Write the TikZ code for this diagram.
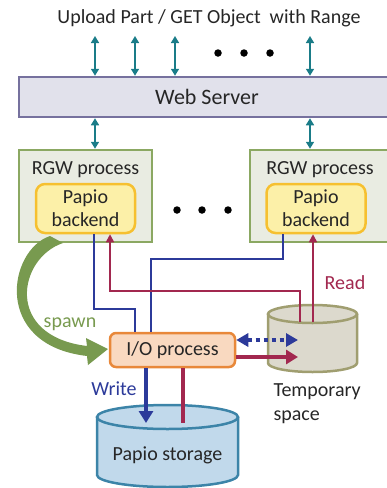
\documentclass[tikz,border=0pt]{standalone}
\usepackage{fontspec}
\setmainfont{Carlito}
\usetikzlibrary{arrows.meta,calc}
\definecolor{tealc}{HTML}{1A7C88}
\definecolor{txtc}{HTML}{262626}
\definecolor{wsf}{HTML}{E1E1EB}
\definecolor{wsb}{HTML}{76719E}
\definecolor{rgwf}{HTML}{E9ECE2}
\definecolor{rgwb}{HTML}{8BA862}
\definecolor{pbf}{HTML}{FCF0A8}
\definecolor{pbb}{HTML}{F6C030}
\definecolor{bluec}{HTML}{2C3A9A}
\definecolor{redc}{HTML}{A2284F}
\definecolor{iof}{HTML}{F9D9C0}
\definecolor{iob}{HTML}{E8883A}
\definecolor{tmpf}{HTML}{DCD9CD}
\definecolor{tmpb}{HTML}{A09E70}
\definecolor{stf}{HTML}{C1D9EB}
\definecolor{stb}{HTML}{3C84A8}
\definecolor{spawnc}{HTML}{789A4F}
\begin{document}
\begin{tikzpicture}[x=1pt,y=1pt,
  txt/.style={text=txtc, font=\fontsize{20}{24}\selectfont},
  tealarrow/.style={draw=tealc, line width=1.6pt, {Triangle[length=7pt,width=8pt]}-{Triangle[length=7pt,width=8pt]}},
  wsbox/.style={draw=wsb, fill=wsf, line width=2.5pt, minimum width=376pt, minimum height=40pt, inner sep=0pt, text=txtc, font=\fontsize{22}{26}\selectfont},
  rgwbox/.style={draw=rgwb, fill=rgwf, line width=2.5pt, inner sep=0pt},
  pbox/.style={draw=pbb, fill=pbf, line width=2.5pt, rounded corners=9pt, minimum width=99pt, minimum height=49pt, inner sep=0pt, align=center, txt},
  iobox/.style={draw=iob, fill=iof, line width=2.5pt, rounded corners=6pt, minimum width=125pt, minimum height=34pt, inner sep=0pt, txt},
  thinblue/.style={draw=bluec, line width=1.6pt},
  thinred/.style={draw=redc, line width=1.6pt},
  thickblue/.style={draw=bluec, line width=4pt},
  thickred/.style={draw=redc, line width=4pt},
  bigtip/.style={-{Triangle[length=12pt,width=14pt]}},
  dotc/.style={fill=black, circle, inner sep=0pt, minimum size=7.5pt}
]
\useasboundingbox (0,0) rectangle (387,-488);
\clip (0,0) rectangle (387,-488);

% top text
\node[txt] (title) at (209,-18) {Upload Part / GET Object \ with Range};

% web server
\node[wsbox] (ws) at (207,-97) {Web Server};

% top arrows
\coordinate (u1) at (95,-36);
\coordinate (u2) at (135,-36);
\coordinate (u3) at (175,-36);
\coordinate (u4) at (310,-36);
\draw[tealarrow] (u1) -- (u1 |- ws.north);
\draw[tealarrow] (u2) -- (u2 |- ws.north);
\draw[tealarrow] (u3) -- (u3 |- ws.north);
\draw[tealarrow] (u4) -- (u4 |- ws.north);
\node[dotc] (d1) at (218,-53) {};
\node[dotc] (d2) at (244,-53) {};
\node[dotc] (d3) at (270,-53) {};

% RGW boxes
\node[rgwbox, minimum width=133pt, minimum height=92pt] (rgw1) at (85.5,-196) {};
\node[rgwbox, minimum width=150pt, minimum height=92pt] (rgw2) at (325,-196) {};
\node[txt] (rgw1t) at (85.5,-170) {RGW process};
\node[txt] (rgw2t) at (320,-170) {RGW process};
\node[pbox] (pb1) at (85.5,-208.5) {Papio\\[-1pt]backend};
\node[pbox] (pb2) at (316,-208.5) {Papio\\[-1pt]backend};
\node[dotc] (m1) at (177,-210) {};
\node[dotc] (m2) at (202,-210) {};
\node[dotc] (m3) at (228,-210) {};

\draw[tealarrow] (ws.south -| u1) -- (rgw1.north -| u1);
\draw[tealarrow] (ws.south -| u4) -- (rgw2.north -| u4);

% I/O process
\node[iobox] (io) at (172.5,-350) {I/O process};

% Temporary space cylinder
\fill[tmpf] (268,-314) -- (268,-363) arc[start angle=180,end angle=360,x radius=44.5pt,y radius=9pt] -- (357,-314) arc[start angle=0,end angle=180,x radius=44.5pt,y radius=9pt] -- cycle;
\draw[tmpb, line width=2.5pt] (268,-314) -- (268,-363) arc[start angle=180,end angle=360,x radius=44.5pt,y radius=9pt] -- (357,-314);
\draw[tmpb, line width=2.5pt] (312.5,-314) ellipse[x radius=44.5pt,y radius=9pt];
\node[txt, align=left, anchor=north west] (tmpt) at (270,-380) {Temporary\\space};
\coordinate (tA) at (300,-322);
\coordinate (tB) at (313,-322);
\coordinate (tD) at (298,-340);
\coordinate (tR) at (298,-357);

% Papio storage cylinder
\fill[stf] (97,-417) -- (97,-475) arc[start angle=180,end angle=360,x radius=70.5pt,y radius=12pt] -- (238,-417) arc[start angle=0,end angle=180,x radius=70.5pt,y radius=12pt] -- cycle;
\draw[stb, line width=2.5pt] (97,-417) -- (97,-475) arc[start angle=180,end angle=360,x radius=70.5pt,y radius=12pt] -- (238,-417);
\draw[stb, line width=2.5pt] (167.5,-417) ellipse[x radius=70.5pt,y radius=12pt];
\node[txt] (stt) at (167.5,-455) {Papio storage};
\coordinate (sW) at (146,-423);
\coordinate (sR) at (183,-423);

% thin connectors
\draw[thinblue] ([xshift=8.5pt]pb1.south) -- ++(0,-75) -| ([xshift=-37.5pt]io.north);
\draw[thinblue] ([xshift=-33pt]pb2.south) -- ++(0,-25) -| ([xshift=-21.5pt]io.north);
\draw[thinred, -{Triangle[length=8pt,width=8pt]}] (tA) -- (300,-291) -| ([xshift=24.5pt]pb1.south);
\draw[thinred, -{Triangle[length=8pt,width=8pt]}] (tB) -- (tB |- pb2.south);
\node[txt, text=redc] (read) at (345,-283) {Read};

% thick connectors
\draw[thickblue, dash pattern=on 4pt off 4pt, {Triangle[length=12pt,width=13pt]}-{Triangle[length=12pt,width=13pt]}] ([yshift=10pt]io.east) -- (tD);
\draw[thickred, bigtip] ([yshift=-7pt]io.east) -- (tR);
\draw[thickblue, bigtip] ([xshift=-26.5pt]io.south) -- (sW);
\draw[thickred] ([xshift=10.5pt]io.south) -- (sR);
\node[txt, text=bluec] (write) at (114,-389) {Write};

% spawn arrow
\fill[spawnc] (50,-236) .. controls (8,-250) and (-8,-345) .. (87,-356)
  -- (88,-365) -- (108,-349) -- (86,-338) -- (87,-346)
  .. controls (4,-336) and (18,-258) .. (63,-243) -- cycle;
\node[txt, text=spawnc] (spawn) at (70,-324) {spawn};
\end{tikzpicture}
\end{document}
